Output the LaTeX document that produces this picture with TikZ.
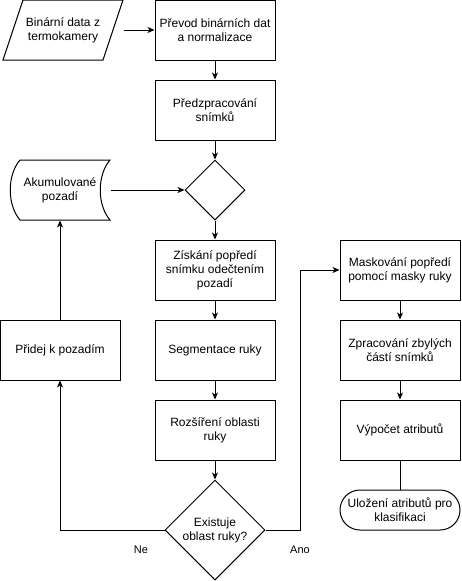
\documentclass[tikz,border=0pt]{standalone}
\usepackage{fontspec}
\setmainfont{Liberation Sans}
\usetikzlibrary{arrows.meta,shapes.geometric}
\begin{document}
\begin{tikzpicture}[x=1pt,y=-1pt,
  font=\fontsize{12}{14}\selectfont,
  line width=1pt,
  >={Stealth[length=7pt,width=6pt,inset=2pt]},
  box/.style={draw, minimum width=120pt, minimum height=60pt, align=center, inner sep=0pt},
  plain/.style={minimum width=#1, minimum height=60pt, align=center, inner sep=0pt},
  dec/.style={draw, diamond, aspect=1, inner sep=0pt, minimum width=#1, minimum height=#1, align=center},
  term/.style={draw, rounded corners=20pt, minimum width=120pt, minimum height=40pt, align=center, inner sep=0pt},
  lbl/.style={font=\fontsize{11}{13}\selectfont}]
\useasboundingbox (0,0) rectangle (461,581);

% input parallelogram
\node[plain=120pt] (in) at (63,30) {Binární data z\\termokamery};
\draw (23,0) -- (123,0) -- (103,60) -- (3,60) -- cycle;

% stored data
\node[plain=100pt] (acc) at (60,190) {Akumulované\\pozadí};
\draw (20,160) -- (110,160) .. controls (97,175) and (97,205) .. (110,220)
      -- (20,220) .. controls (7,205) and (7,175) .. (20,160) -- cycle;

\node[box] (b1) at (215,30) {Převod binárních dat\\a normalizace};
\node[box] (b2) at (215,110) {Předzpracování\\snímků};
\node[dec=60pt] (d1) at (215,190) {};
\node[box] (b3) at (215,270) {Získání popředí\\snímku odečtením\\pozadí};
\node[box] (b4) at (215,350) {Segmentace ruky};
\node[box] (b5) at (215,430) {Rozšíření oblasti\\ruky};
\node[dec=100pt] (d2) at (215,530) {Existuje\\oblast ruky?};
\node[box] (p) at (60,350) {Přidej k pozadím};
\node[box] (m1) at (400,270) {Maskování popředí\\pomocí masky ruky};
\node[box] (m2) at (400,350) {Zpracování zbylých\\částí snímků};
\node[box] (m3) at (400,430) {Výpočet atributů};
\node[term] (t) at (400,510) {Uložení atributů pro\\klasifikaci};

\draw[->] (in.east) -- (b1.west);
\draw[->] (b1) -- (b2);
\draw[->] (b2) -- (d1);
\draw[->] (acc.east) -- (d1.west);
\draw[->] (d1) -- (b3);
\draw[->] (b3) -- (b4);
\draw[->] (b4) -- (b5);
\draw[->] (b5) -- (d2);
\draw[->] (d2.west) -| (p.south);
\draw[->] (p.north) -- (acc.south);
\draw[->] (d2.east) -- ++(35,0) |- (m1.west);
\draw[->] (m1) -- (m2);
\draw[->] (m2) -- (m3);
\draw (m3) -- (t);

\node[lbl] (ne) at (141,550) {Ne};
\node[lbl] (ano) at (300,550) {Ano};
\end{tikzpicture}
\end{document}
